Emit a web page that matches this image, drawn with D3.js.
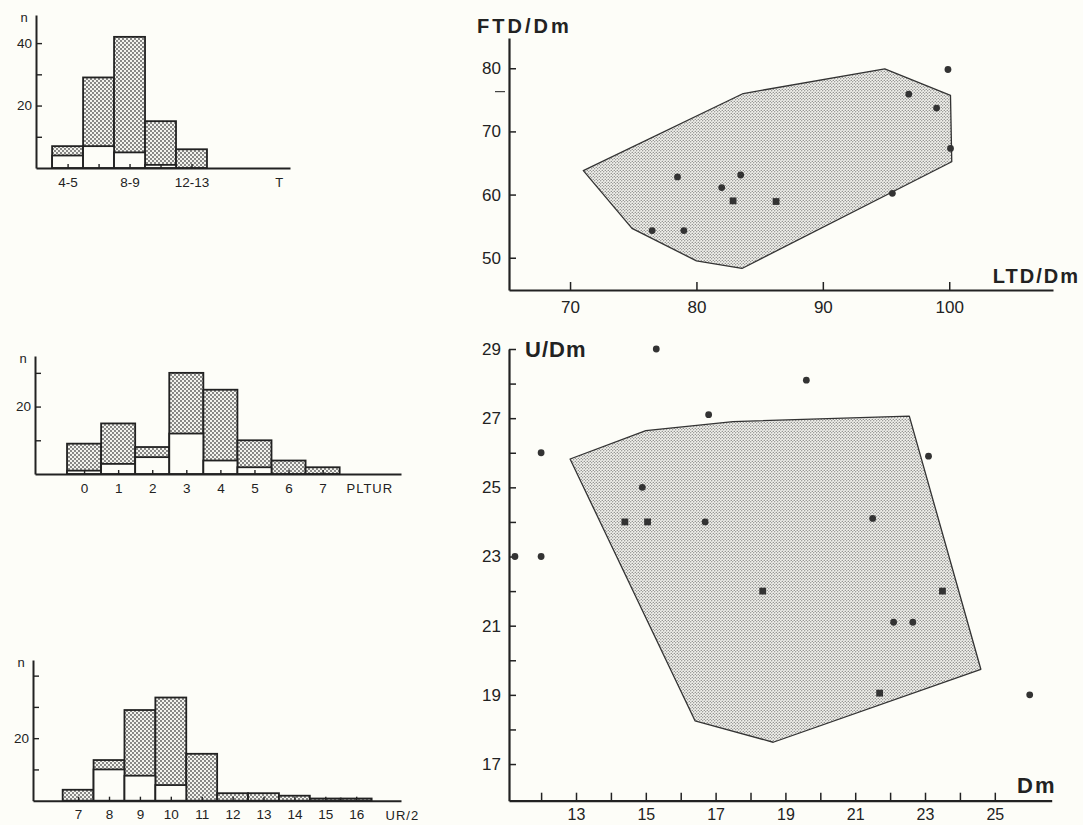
<!DOCTYPE html>
<html>
<head>
<meta charset="utf-8">
<script src="https://cdn.jsdelivr.net/npm/d3@7"></script>
<style>
  body { margin: 0; background: #fdfdf8; }
  svg { display: block; font-family: "Liberation Sans", Arial, sans-serif; }
  .axis path, .axis line { stroke: #222; }
  .axis text { fill: #222; }
</style>
</head>
<body>
<div id="chart"></div>
<script>
// ---------------- data ----------------
// histogram T
const tCats = ["4-5", "6-7", "8-9", "10-11", "12-13"];
const tTotal = [7, 29, 42, 15, 6];
const tWhite = [4, 7, 5, 1, 0];
// histogram PLTUR
const pCats = ["0", "1", "2", "3", "4", "5", "6", "7"];
const pTotal = [9, 15, 8, 30, 25, 10, 4, 2];
const pWhite = [1, 3, 5, 12, 4, 2, 0, 0];
// histogram UR/2
const uCats = ["7", "8", "9", "10", "11", "12", "13", "14", "15", "16"];
const uTotal = [3.5, 13, 29, 33, 15, 2.4, 2.4, 1.6, 0.7, 0.7];
const uWhite = [0, 10, 8, 5, 0, 0, 0, 0, 0, 0];

// scatter LTD/Dm (x) vs FTD/Dm (y)
const ftdCircles = [[78.5, 62.8], [82, 61.1], [83.5, 63.1], [76.5, 54.3], [79, 54.3],
  [95.5, 60.2], [96.8, 75.9], [99, 73.7], [99.9, 79.8], [100.1, 67.3]];
const ftdSquares = [[82.9, 59], [86.3, 58.9]];
const ftdHull = [[71.05, 63.8], [83.7, 76.0], [94.9, 79.9], [100.1, 75.7],
  [100.2, 65.2], [83.6, 48.3], [80.0, 49.5], [74.9, 54.65]];
const ftdStray = [76.3];

// scatter Dm (x) vs U/Dm (y)
const udmCircles = [[15.3, 29], [16.8, 27.1], [12, 26], [14.9, 25], [16.7, 24], [11.25, 23],
  [12, 23], [19.6, 28.1], [23.1, 25.9], [21.5, 24.1], [22.1, 21.1], [22.65, 21.1], [26, 19]];
const udmSquares = [[14.4, 24], [15.05, 24], [18.35, 22], [23.5, 22], [21.7, 19.05]];
const udmHull = [[12.83, 25.82], [15.0, 26.64], [17.5, 26.9], [22.55, 27.06],
  [24.6, 19.74], [18.65, 17.63], [16.41, 18.25]];

const svg = d3.select("#chart").append("svg")
  .attr("width", 1083)
  .attr("height", 825);

// stipple patterns
const defs = svg.append("defs");
function stipple(id, size, r, bg, fg) {
  const p = defs.append("pattern")
    .attr("id", id)
    .attr("patternUnits", "userSpaceOnUse")
    .attr("width", size)
    .attr("height", size);
  p.append("rect").attr("width", size).attr("height", size).attr("fill", bg);
  p.append("circle").attr("cx", size / 4).attr("cy", size / 4).attr("r", r).attr("fill", fg);
  p.append("circle").attr("cx", size * 3 / 4).attr("cy", size * 3 / 4).attr("r", r).attr("fill", fg);
}
stipple("dotsH", 4, 0.9, "#f3f3ee", "#555");
stipple("dotsS", 3, 0.62, "#f1f1ec", "#555");

//---------------- histograms ----------------
function histogram(o) {
  const g = svg.append("g");
  const x = d3.scaleLinear().domain(o.xDomain).range([o.left, o.right]);
  const y = d3.scaleLinear().domain(o.yDomain).range([o.base, o.top]);

  // stippled full bars
  g.selectAll("rect.tot")
    .data(o.total)
    .join("rect")
    .attr("class", "tot")
    .attr("x", (d, i) => x(i))
    .attr("width", x(1) - x(0))
    .attr("y", d => y(d))
    .attr("height", d => y(0) - y(d))
    .attr("fill", "url(#dotsH)")
    .attr("stroke", "#222")
    .attr("stroke-width", 1.8);
  // white lower part
  g.selectAll("rect.wh")
    .data(o.white)
    .join("rect")
    .attr("class", "wh")
    .attr("x", (d, i) => x(i))
    .attr("width", x(1) - x(0))
    .attr("y", d => y(d))
    .attr("height", d => y(0) - y(d))
    .attr("fill", "#fdfdf8")
    .attr("stroke", "#222")
    .attr("stroke-width", d => d > 0 ? 1.8 : 0);

  // x axis, small ticks at bin centres
  g.append("g")
    .attr("class", "axis")
    .attr("transform", `translate(0,${o.base})`)
    .call(d3.axisBottom(x)
      .tickValues(o.cats.map((c, i) => i + 0.5))
      .tickFormat((d, i) => o.showLabel(i) ? o.cats[i] : "")
      .tickSize(-4)
      .tickSizeOuter(0)
      .tickPadding(9))
    .call(a => a.select(".domain").attr("stroke-width", 2))
    .call(a => a.selectAll("line").attr("stroke-width", 1.4))
    .call(a => a.selectAll("text").style("font-size", "13.5px"));

  // y axis, ticks pointing inward
  g.append("g")
    .attr("class", "axis")
    .attr("transform", `translate(${o.left},0)`)
    .call(d3.axisLeft(y)
      .tickValues(o.yTicks)
      .tickFormat(d => o.yLabels.includes(d) ? d : "")
      .tickSize(-6)
      .tickSizeOuter(0)
      .tickPadding(4))
    .call(a => a.select(".domain").attr("stroke-width", 2))
    .call(a => a.selectAll("line").attr("stroke-width", 1.4))
    .call(a => a.selectAll("text").style("font-size", "13.5px"));

  g.append("text")
    .attr("x", o.left - 12)
    .attr("y", o.top + 7)
    .attr("text-anchor", "middle")
    .style("font-size", "13px")
    .attr("fill", "#222")
    .text("n");

  g.append("text")
    .attr("x", x(o.titleAt))
    .attr("y", o.base + 19)
    .style("font-size", "13px")
    .style("letter-spacing", "1px")
    .attr("fill", "#222")
    .text(o.title);
}

histogram({
  cats: tCats, total: tTotal, white: tWhite,
  left: 36, right: 290, base: 168, top: 15,
  xDomain: [-0.52, 7.68], yDomain: [0, 49], yTicks: [10, 20, 30, 40], yLabels: [20, 40],
  showLabel: i => i % 2 === 0, title: "T", titleAt: 7.2
});
histogram({
  cats: pCats, total: pTotal, white: pWhite,
  left: 35, right: 401, base: 474, top: 356,
  xDomain: [-0.94, 9.8], yDomain: [0, 35], yTicks: [10, 20, 30], yLabels: [20],
  showLabel: () => true, title: "PLTUR", titleAt: 8.2
});
histogram({
  cats: uCats, total: uTotal, white: uWhite,
  left: 33, right: 401, base: 800.7, top: 660,
  xDomain: [-0.96, 10.95], yDomain: [0, 45], yTicks: [10, 20, 30, 40], yLabels: [20],
  showLabel: () => true, title: "UR/2", titleAt: 10.45
});

//---------------- scatter plots ----------------
function scatter(o) {
  const g = svg.append("g");
  const x = d3.scaleLinear().domain(o.xDomain).range([o.left, o.right]);
  const y = d3.scaleLinear().domain(o.yDomain).range([o.base, o.top]);

  g.append("path")
    .datum(o.hull)
    .attr("d", d3.line().x(d => x(d[0])).y(d => y(d[1])).curve(d3.curveLinearClosed))
    .attr("fill", "url(#dotsS)")
    .attr("stroke", "#333")
    .attr("stroke-width", 1.3)
    .attr("stroke-linejoin", "round");

  g.append("g")
    .attr("class", "axis")
    .attr("transform", `translate(0,${o.base})`)
    .call(d3.axisBottom(x)
      .tickValues(o.xTicks)
      .tickFormat(o.xFormat)
      .tickSize(-8)
      .tickSizeOuter(0)
      .tickPadding(o.xPad))
    .call(a => a.select(".domain").attr("stroke-width", 2.2))
    .call(a => a.selectAll("line").attr("stroke-width", 1.5))
    .call(a => a.selectAll("text").style("font-size", o.fontSize));

  g.append("g")
    .attr("class", "axis")
    .attr("transform", `translate(${o.left},0)`)
    .call(d3.axisLeft(y)
      .tickValues(o.yTicks)
      .tickFormat(o.yFormat)
      .tickSize(-7)
      .tickSizeOuter(0)
      .tickPadding(8))
    .call(a => a.select(".domain").attr("stroke-width", 2.2))
    .call(a => a.selectAll("line").attr("stroke-width", 1.5))
    .call(a => a.selectAll("text").style("font-size", o.fontSize));

  g.selectAll("circle.pt")
    .data(o.circles)
    .join("circle")
    .attr("class", "pt")
    .attr("cx", d => x(d[0]))
    .attr("cy", d => y(d[1]))
    .attr("r", 3.4)
    .attr("fill", "#333");

  g.selectAll("rect.pt")
    .data(o.squares)
    .join("rect")
    .attr("class", "pt")
    .attr("x", d => x(d[0]) - 3.4)
    .attr("y", d => y(d[1]) - 3.4)
    .attr("width", 6.8)
    .attr("height", 6.8)
    .attr("fill", "#333");

  return { g, x, y };
}

const ftdPlot = scatter({
  left: 509, right: 1053, base: 290, top: 38,
  xDomain: [65.17, 108.21], yDomain: [44.89, 84.79],
  xTicks: [70, 80, 90, 100], yTicks: [50, 60, 70, 80],
  xFormat: d => d, yFormat: d => d, fontSize: "17px", xPad: 11,
  hull: ftdHull, circles: ftdCircles, squares: ftdSquares
});
// stray mark left of the axis
ftdPlot.g.selectAll("line.stray")
  .data(ftdStray)
  .join("line")
  .attr("class", "stray")
  .attr("x1", 495).attr("x2", 505)
  .attr("y1", d => ftdPlot.y(d)).attr("y2", d => ftdPlot.y(d))
  .attr("stroke", "#444")
  .attr("stroke-width", 1.2);

ftdPlot.g.append("text")
  .attr("x", 477).attr("y", 33)
  .style("font-size", "20px").style("font-weight", "bold").style("letter-spacing", "3px")
  .attr("fill", "#222")
  .text("FTD/Dm");
ftdPlot.g.append("text")
  .attr("x", 1080).attr("y", 283)
  .attr("text-anchor", "end")
  .style("font-size", "20px").style("font-weight", "bold").style("letter-spacing", "2px")
  .attr("fill", "#222")
  .text("LTD/Dm");

const udmPlot = scatter({
  left: 509, right: 1051.7, base: 800.7, top: 349,
  xDomain: [11.08, 26.63], yDomain: [15.94, 29],
  xTicks: d3.range(12, 26), yTicks: d3.range(17, 30),
  xFormat: d => d % 2 === 1 ? d : "", yFormat: d => d % 2 === 1 ? d : "", fontSize: "17px", xPad: 8,
  hull: udmHull, circles: udmCircles, squares: udmSquares
});
udmPlot.g.select(".axis").selectAll("text").style("font-size", "16px");
udmPlot.g.append("text")
  .attr("x", 525).attr("y", 357)
  .style("font-size", "22px").style("font-weight", "bold").style("letter-spacing", "1px")
  .attr("fill", "#222")
  .text("U/Dm");
udmPlot.g.append("text")
  .attr("x", 1017).attr("y", 793)
  .style("font-size", "22px").style("font-weight", "bold").style("letter-spacing", "2px")
  .attr("fill", "#222")
  .text("Dm");
</script>
</body>
</html>
